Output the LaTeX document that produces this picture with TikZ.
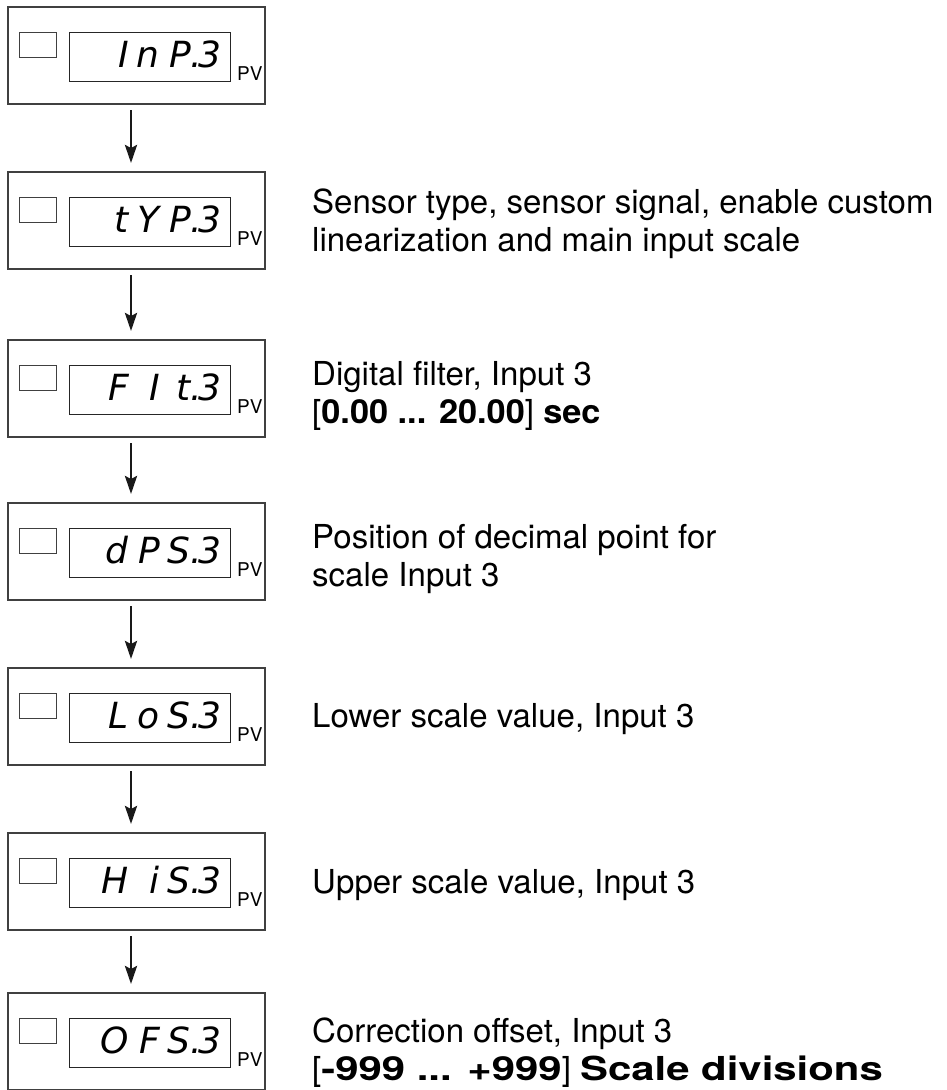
\documentclass[tikz,border=0pt]{standalone}
\usepackage{fontspec}
\setmainfont{TeX Gyre Heros}
\newfontfamily\segfont{DejaVu Sans}
\usetikzlibrary{arrows.meta}
\tikzset{
  outerbox/.style={draw=black!75, line width=1.3pt, minimum width=257pt, minimum height=97pt, anchor=north west, inner sep=0pt, outer sep=0pt},
  sqbox/.style={draw=black!75, line width=1pt, minimum width=37pt, minimum height=25pt, anchor=north west, inner sep=0pt},
  dispbox/.style={draw=black!85, line width=1pt, minimum width=161pt, minimum height=49pt, anchor=north west, inner sep=0pt},
  segtext/.style={anchor=base east, inner sep=0pt, font=\segfont\itshape\fontsize{36}{36}\selectfont, text=black},
  pvtext/.style={anchor=base west, inner sep=0pt, font=\fontsize{19}{19}\selectfont},
  desc/.style={anchor=base west, inner sep=0pt, align=left, font=\fontsize{33}{38}\selectfont, text=black},
  flow/.style={line width=2.8pt, -{Stealth[length=18pt, width=12pt, inset=3pt]}, black!90, shorten <=6pt, shorten >=9pt},
}
\newcommand\sgc[1]{\makebox[31pt][r]{#1}}
\newcommand\sgd[4]{\sgc{#1}\sgc{#2}\sgc{#3}\makebox[0pt][l]{.}\sgc{#4}}
\newcommand\wb[2]{{\bfseries\addfontfeature{FakeStretch=#1}#2}}
\newcommand\panel[6]{%
  \node[outerbox] (#1) at (8,-#2) {};
  \node[sqbox] (#1s) at (19,-#2-25) {};
  \node[dispbox] (#1d) at (69,-#2-25) {};
  \node[segtext] (#1t) at (222,-#2-60) {\sgd{#3}{#4}{#5}{#6}};
  \node[pvtext] (#1p) at (237,-#2-73) {PV};
}
\begin{document}
\begin{tikzpicture}[x=1pt,y=1pt]
\clip (0,0) rectangle (946,-1090);
\fill[white] (0,0) rectangle (946,-1090);
\panel{b1}{7}{I}{n}{P}{3}
\panel{b2}{172}{t}{Y}{P}{3}
\panel{b3}{340}{F}{I}{t}{3}
\panel{b4}{503}{d}{P}{S}{3}
\panel{b5}{668}{L}{o}{S}{3}
\panel{b6}{833}{H}{i}{S}{3}
\panel{b7}{993}{O}{F}{S}{3}
\foreach \a/\b in {b1/b2,b2/b3,b3/b4,b4/b5,b5/b6,b6/b7}
  \draw[flow] (\a.south -| 131,0) -- (\b.north -| 131,0);
\node[desc] (t2) at (312,-251) {Sensor type, sensor signal, enable custom\\linearization and main input scale};
\node[desc] (t3) at (312,-423) {Digital filter, Input 3\\{}[\wb{1.04}{0.00 ... 20.00}] \wb{1.04}{sec}};
\node[desc] (t4) at (312,-586) {Position of decimal point for\\scale Input 3};
\node[desc] (t5) at (312,-727) {Lower scale value, Input 3};
\node[desc] (t6) at (312,-893) {Upper scale value, Input 3};
\node[desc] (t7) at (312,-1080) {Correction offset, Input 3\\{}[\wb{1.27}{-999 ... +999}] \wb{1.27}{Scale divisions}};
\end{tikzpicture}
\end{document}
